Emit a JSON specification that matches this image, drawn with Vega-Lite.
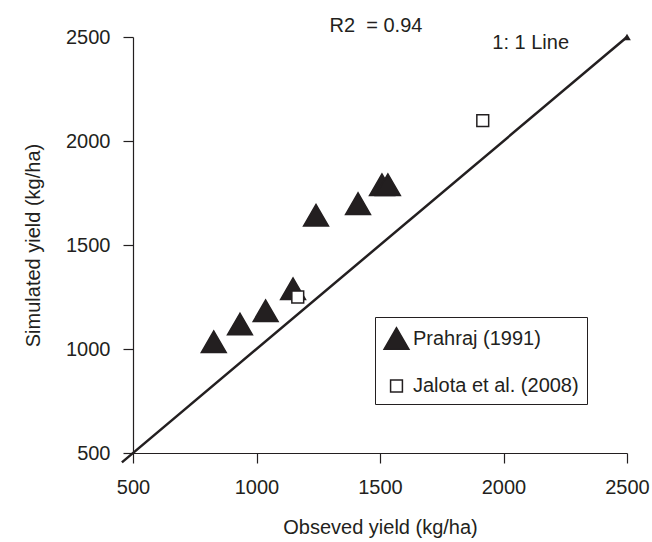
{
  "$schema": "https://vega.github.io/schema/vega-lite/v6.json",
  "autosize": {"type": "none"},
  "width": 494,
  "height": 416,
  "padding": {"left": 133, "top": 37, "right": 25, "bottom": 89},
  "background": "white",
  "title": {"text": "R2\u00a0 = 0.94", "fontSize": 20, "fontWeight": "normal", "font": "Liberation Sans", "color": "#231f20", "offset": -9, "dx": -4},
  "config": {
    "view": {"stroke": null},
    "font": "Liberation Sans",
    "axis": {
      "grid": false,
      "domainColor": "#231f20",
      "domainWidth": 1.2,
      "tickColor": "#231f20",
      "tickWidth": 1.2,
      "tickSize": 10,
      "labelFont": "Liberation Sans",
      "labelFontSize": 20,
      "labelColor": "#231f20",
      "labelFlush": false,
      "labelOverlap": false,
      "format": "d",
      "titleFont": "Liberation Sans",
      "titleFontSize": 20,
      "titleFontWeight": "normal",
      "titleColor": "#231f20"
    }
  },
  "datasets": {
    "obs": [
      {"observed": 827, "simulated": 1035, "source": "Prahraj (1991)"},
      {"observed": 933, "simulated": 1120, "source": "Prahraj (1991)"},
      {"observed": 1037, "simulated": 1184, "source": "Prahraj (1991)"},
      {"observed": 1148, "simulated": 1290, "source": "Prahraj (1991)"},
      {"observed": 1241, "simulated": 1643, "source": "Prahraj (1991)"},
      {"observed": 1411, "simulated": 1699, "source": "Prahraj (1991)"},
      {"observed": 1508, "simulated": 1790, "source": "Prahraj (1991)"},
      {"observed": 1532, "simulated": 1790, "source": "Prahraj (1991)"},
      {"observed": 1167, "simulated": 1250, "source": "Jalota et al. (2008)"},
      {"observed": 1916, "simulated": 2098, "source": "Jalota et al. (2008)"}
    ],
    "oneone": [
      {"observed": 455, "simulated": 455},
      {"observed": 2500, "simulated": 2500}
    ],
    "label": [
      {"observed": 2110, "simulated": 2470, "text": "1: 1 Line"}
    ],
    "endpoint": [
      {"observed": 2500, "simulated": 2500}
    ]
  },
  "layer": [
    {
      "data": {"name": "oneone"},
      "mark": {"type": "line", "color": "#231f20", "strokeWidth": 2.5, "clip": false},
      "encoding": {
        "x": {"field": "observed", "type": "quantitative", "scale": {"domain": [500, 2500], "nice": false, "zero": false},
              "axis": {"values": [500, 1000, 1500, 2000, 2500], "title": "Obseved yield (kg/ha)", "labelPadding": 14, "titlePadding": 20}},
        "y": {"field": "simulated", "type": "quantitative", "scale": {"domain": [500, 2500], "nice": false, "zero": false},
              "axis": {"values": [500, 1000, 1500, 2000, 2500], "title": "Simulated yield (kg/ha)", "labelPadding": 13, "titlePadding": 22}}
      }
    },
    {
      "data": {"name": "endpoint"},
      "mark": {"type": "point", "shape": "triangle-up", "filled": true, "color": "#231f20", "opacity": 1, "size": 60},
      "encoding": {
        "x": {"field": "observed", "type": "quantitative"},
        "y": {"field": "simulated", "type": "quantitative"}
      }
    },
    {
      "data": {"name": "label"},
      "mark": {"type": "text", "fontSize": 20, "color": "#231f20", "align": "center", "baseline": "middle"},
      "encoding": {
        "x": {"field": "observed", "type": "quantitative"},
        "y": {"field": "simulated", "type": "quantitative"},
        "text": {"field": "text"}
      }
    },
    {
      "data": {"name": "obs"},
      "mark": {"type": "point", "stroke": "#231f20", "strokeWidth": 1.5, "opacity": 1},
      "encoding": {
        "x": {"field": "observed", "type": "quantitative"},
        "y": {"field": "simulated", "type": "quantitative"},
        "shape": {"field": "source", "type": "nominal",
                  "scale": {"domain": ["Prahraj (1991)", "Jalota et al. (2008)"], "range": ["triangle-up", "square"]},
                  "legend": {"title": null, "orient": "none", "legendX": 242, "legendY": 280,
                             "strokeColor": "#231f20", "fillColor": "white", "padding": 8,
                             "rowPadding": 23, "labelFontSize": 20, "labelFont": "Liberation Sans", "labelLimit": 0,
                             "labelColor": "#231f20", "symbolStrokeColor": "#231f20", "symbolStrokeWidth": 1.5, "labelOffset": 3}},
        "fill": {"field": "source", "type": "nominal",
                 "scale": {"domain": ["Prahraj (1991)", "Jalota et al. (2008)"], "range": ["#231f20", "white"]}},
        "size": {"field": "source", "type": "nominal",
                 "scale": {"domain": ["Prahraj (1991)", "Jalota et al. (2008)"], "range": [620, 140]}}
      }
    }
  ]
}
